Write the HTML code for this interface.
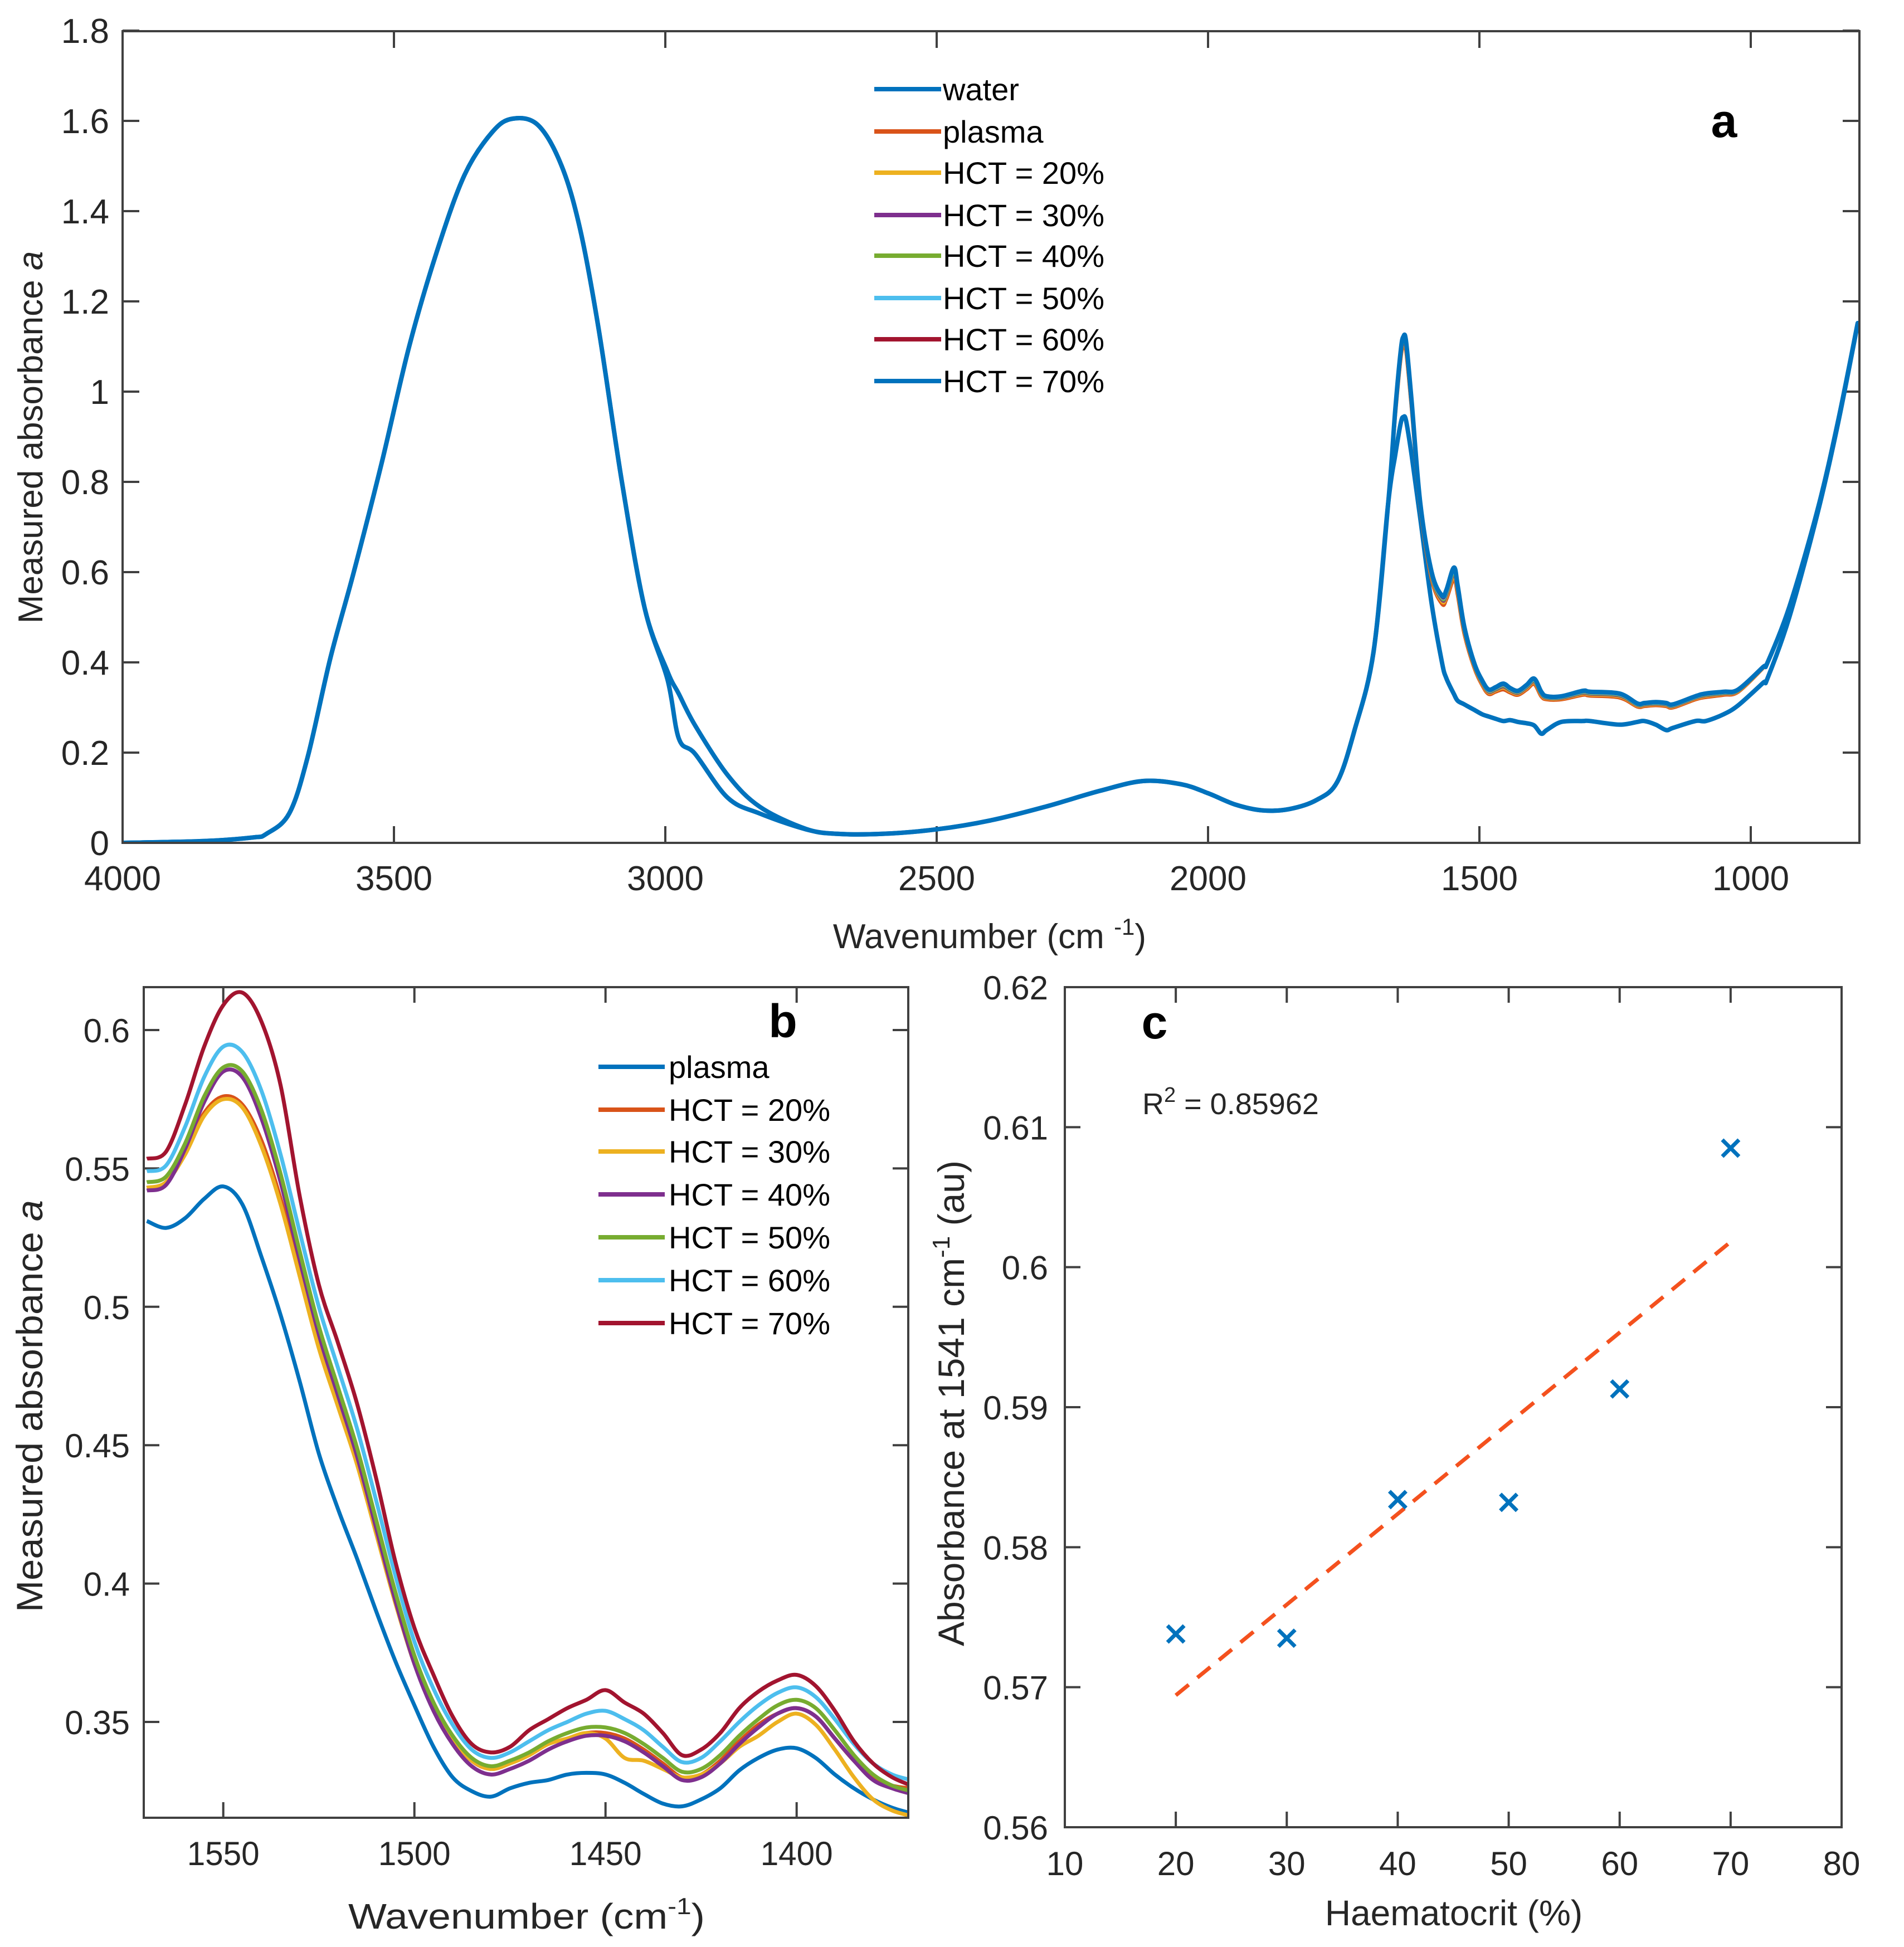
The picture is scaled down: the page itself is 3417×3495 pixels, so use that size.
<!DOCTYPE html>
<html><head><meta charset="utf-8"><style>
html,body{margin:0;padding:0;background:#fff;}
svg{display:block;font-family:"Liberation Sans",Arial,sans-serif;}
</style></head><body>
<svg id="fig" width="3417" height="3495" viewBox="0 0 3417 3495" xmlns="http://www.w3.org/2000/svg">
<rect width="3417" height="3495" fill="#fff"/>
</svg>
<script>
// ---------- Panel a data ----------
const wnA=[4000,3850,3760,3735,3693,3659,3617,3574,3523,3472,
3421,3370,3319,3281,3234,3191,3157,3123,3080,3038,
2996,2975,2945,2885,2826,2741,2683,2600,2500,2400,
2300,2200,2120,2050,2000,1950,1900,1850,1800,1762,
1730,1695,1668,1655,1645,1640,1635,1625,1609,1588,
1569,1561,1547,1540,1528,1510,1495,1483,1470,1456,
1443,1429,1413,1399,1386,1376,1349,1309,1296,1242,
1209,1196,1175,1156,1143,1102,1083,1050,1023,977,
969,929,877,840,803];
const waterA=[0,0.004,0.012,0.02,0.065,0.19,0.41,0.6,0.84,1.1,
1.31,1.48,1.575,1.605,1.59,1.5,1.36,1.14,0.8,0.52,
0.362,0.231,0.197,0.1,0.065,0.03,0.02,0.02,0.03,0.05,
0.08,0.115,0.137,0.13,0.11,0.085,0.072,0.075,0.095,0.135,
0.25,0.424,0.754,0.86,0.93,0.944,0.935,0.86,0.72,0.53,
0.4,0.365,0.33,0.315,0.307,0.295,0.285,0.28,0.275,0.27,
0.272,0.268,0.265,0.26,0.242,0.25,0.268,0.27,0.27,0.262,
0.268,0.27,0.262,0.25,0.255,0.27,0.27,0.285,0.305,0.355,
0.365,0.5,0.73,0.925,1.15];
const plasmaA=[0,0.004,0.012,0.02,0.065,0.19,0.41,0.6,0.84,1.1,
1.31,1.48,1.575,1.605,1.59,1.5,1.36,1.14,0.8,0.52,
0.38,0.33,0.26,0.15,0.08,0.031,0.02,0.02,0.03,0.05,
0.08,0.115,0.137,0.13,0.11,0.085,0.072,0.075,0.095,0.135,
0.25,0.424,0.754,0.95,1.075,1.10,1.09,0.965,0.745,0.585,
0.53,0.54,0.585,0.55,0.465,0.39,0.35,0.33,0.335,0.34,
0.333,0.328,0.34,0.352,0.325,0.318,0.318,0.328,0.326,0.322,
0.302,0.303,0.305,0.303,0.3,0.318,0.323,0.328,0.335,0.388,
0.4,0.523,0.738,0.93,1.152];
const hct70A=[0,0.004,0.012,0.02,0.065,0.19,0.41,0.6,0.84,1.1,
1.31,1.48,1.575,1.605,1.59,1.5,1.36,1.14,0.8,0.52,
0.38,0.33,0.26,0.15,0.08,0.031,0.02,0.02,0.03,0.05,
0.08,0.115,0.137,0.13,0.11,0.085,0.072,0.075,0.095,0.135,
0.25,0.424,0.754,0.96,1.09,1.122,1.11,0.98,0.754,0.6,
0.548,0.56,0.61,0.57,0.48,0.4,0.36,0.34,0.345,0.353,
0.343,0.337,0.35,0.364,0.335,0.325,0.325,0.337,0.335,0.331,
0.309,0.31,0.312,0.31,0.307,0.325,0.331,0.335,0.34,0.39,
0.4,0.523,0.738,0.93,1.152];
const hctMixA=[0.3,0.5,0.65,0.8,0.9]; // HCT 20..60 position between plasma and HCT70
const legendA=["water","plasma","HCT = 20%","HCT = 30%","HCT = 40%","HCT = 50%","HCT = 60%","HCT = 70%"];
const colorsA=["#0072BD","#D95319","#EDB120","#7E2F8E","#77AC30","#4DBEEE","#A2142F","#0072BD"];
const xTicksA=[4000,3500,3000,2500,2000,1500,1000];
const yTicksA=[0,0.2,0.4,0.6,0.8,1,1.2,1.4,1.6,1.8];

// ---------- Panel b data ----------
const wnB=[1570,1565,1560,1555,1550,1545,1540,1535,1530,1525,1520,1515,1510,1505,1500,1495,1490,1485,1480,1475,1470,1465,1460,1455,1450,1445,1440,1435,1430,1425,1420,1415,1410,1405,1400,1395,1390,1385,1380,1375,1370];
const plasmaB=[0.531,0.5285,0.532,0.539,0.5435,0.537,0.518,0.497,0.473,0.447,0.427,0.409,0.39,0.372,0.356,0.341,0.33,0.325,0.323,0.326,0.328,0.329,0.331,0.3316,0.331,0.328,0.324,0.3205,0.3195,0.322,0.326,0.3325,0.337,0.340,0.3405,0.337,0.331,0.326,0.322,0.319,0.317];
const hct20B=[0.543,0.545,0.556,0.570,0.576,0.573,0.560,0.539,0.513,0.487,0.466,0.445,0.420,0.395,0.372,0.356,0.344,0.336,0.333,0.335,0.338,0.342,0.344,0.346,0.346,0.344,0.340,0.335,0.330,0.331,0.336,0.343,0.349,0.353,0.355,0.352,0.344,0.336,0.330,0.327,0.326];
const hct30B=[0.543,0.545,0.555,0.569,0.575,0.572,0.558,0.537,0.511,0.485,0.464,0.443,0.418,0.393,0.371,0.355,0.343,0.336,0.333,0.335,0.338,0.342,0.344,0.346,0.344,0.337,0.336,0.333,0.330,0.331,0.335,0.341,0.345,0.350,0.353,0.349,0.340,0.330,0.322,0.318,0.316];
const hct40B=[0.542,0.544,0.557,0.574,0.585,0.583,0.568,0.545,0.517,0.490,0.468,0.446,0.420,0.394,0.371,0.354,0.342,0.334,0.331,0.333,0.336,0.340,0.343,0.345,0.345,0.343,0.339,0.334,0.329,0.330,0.335,0.342,0.348,0.353,0.355,0.352,0.344,0.336,0.329,0.326,0.324];
const hct50B=[0.545,0.547,0.559,0.576,0.5865,0.585,0.571,0.548,0.520,0.493,0.471,0.449,0.423,0.397,0.374,0.357,0.345,0.337,0.334,0.336,0.339,0.343,0.346,0.348,0.348,0.346,0.342,0.337,0.332,0.333,0.338,0.345,0.351,0.356,0.358,0.355,0.347,0.338,0.331,0.327,0.325];
const hct60B=[0.549,0.551,0.565,0.583,0.594,0.592,0.578,0.555,0.527,0.500,0.478,0.456,0.430,0.403,0.379,0.362,0.349,0.340,0.337,0.339,0.343,0.347,0.350,0.353,0.354,0.351,0.347,0.341,0.3355,0.337,0.343,0.350,0.356,0.3605,0.3625,0.359,0.351,0.342,0.335,0.331,0.329];
const hct70B=[0.5535,0.556,0.573,0.594,0.609,0.6135,0.603,0.580,0.540,0.508,0.487,0.465,0.438,0.408,0.384,0.367,0.352,0.342,0.339,0.341,0.347,0.351,0.355,0.358,0.3615,0.357,0.353,0.346,0.338,0.340,0.346,0.355,0.361,0.365,0.367,0.363,0.354,0.343,0.335,0.330,0.327];
const legendB=["plasma","HCT = 20%","HCT = 30%","HCT = 40%","HCT = 50%","HCT = 60%","HCT = 70%"];
const colorsB=["#0072BD","#D95319","#EDB120","#7E2F8E","#77AC30","#4DBEEE","#A2142F"];
const xTicksB=[1550,1500,1450,1400];
const yTicksB=[0.35,0.4,0.45,0.5,0.55,0.6];

// ---------- Panel c data ----------
const hctC=[20,30,40,50,60,70];
const absC=[0.5738,0.5735,0.5834,0.5832,0.5913,0.6085];
const xTicksC=[10,20,30,40,50,60,70,80];
const yTicksC=[0.56,0.57,0.58,0.59,0.6,0.61,0.62];
const yTickLabelsC=["0.56","0.57","0.58","0.59","0.6","0.61","0.62"];

// ---------- helpers ----------
const NS="http://www.w3.org/2000/svg";
const svg=document.getElementById('fig');
function mk(tag,attrs,parent){const e=document.createElementNS(NS,tag);for(const k in attrs)e.setAttribute(k,attrs[k]);(parent||svg).appendChild(e);return e;}
function txt(str,x,y,size,anchor,parent,extra){const t=mk('text',Object.assign({x:x,y:y,'font-size':size,'text-anchor':anchor||'middle',fill:'#262626'},extra||{}),parent);t.textContent=str;return t;}
function smoothPath(pts){
  const n=pts.length;
  let d='M'+pts[0][0].toFixed(1)+','+pts[0][1].toFixed(1);
  for(let i=0;i<n-1;i++){
    const p0=pts[Math.max(0,i-1)],p1=pts[i],p2=pts[i+1],p3=pts[Math.min(n-1,i+2)];
    const c1=[p1[0]+(p2[0]-p0[0])/6,p1[1]+(p2[1]-p0[1])/6];
    const c2=[p2[0]-(p3[0]-p1[0])/6,p2[1]-(p3[1]-p1[1])/6];
    d+='C'+c1[0].toFixed(1)+','+c1[1].toFixed(1)+' '+c2[0].toFixed(1)+','+c2[1].toFixed(1)+' '+p2[0].toFixed(1)+','+p2[1].toFixed(1);
  }
  return d;
}
function axesBox(g,L,T,R,B){
  const r=mk('rect',{x:L,y:T,width:R-L,height:B-T,fill:'none',stroke:'#404040','stroke-width':4},g);
  
  
}

// ================= PANEL A =================
(function(){
  const L=220,T=56,R=3337,B=1513;
  const X=w=>L+(4000-w)*(2922/3000);
  const Y=v=>B-v*810;
  const g=mk('g',{});
  
  
  const tg=mk('g',{},g);
  
  
  xTicksA.forEach(v=>{
    mk('line',{x1:X(v),x2:X(v),y1:B,y2:B-30,stroke:'#404040','stroke-width':4},tg);
    mk('line',{x1:X(v),x2:X(v),y1:T,y2:T+30,stroke:'#404040','stroke-width':4},tg);
    const t=txt(String(v),X(v),B+85,62,'middle',tg);
    
    
  });
  yTicksA.forEach(v=>{
    mk('line',{x1:L,x2:L+30,y1:Y(v),y2:Y(v),stroke:'#404040','stroke-width':4},tg);
    mk('line',{x1:R,x2:R-30,y1:Y(v),y2:Y(v),stroke:'#404040','stroke-width':4},tg);
    const t=txt(String(v),196,Y(v)+22,62,'end',tg);
    
    
  });
  const clip=mk('clipPath',{id:'clipA'},g);
  mk('rect',{x:L,y:T,width:R-L,height:B-T},clip);
  const series=[waterA,plasmaA];
  hctMixA.forEach(m=>series.push(plasmaA.map((p,i)=>p+(hct70A[i]-p)*m)));
  series.push(hct70A);
  const sg=mk('g',{fill:'none','stroke-linejoin':'round','stroke-linecap':'round','clip-path':'url(#clipA)'},g);
  
  
  series.forEach((arr,k)=>{
    const n=Math.min(arr.length,wnA.length);
    const pts=[];for(let i=0;i<n;i++)pts.push([X(wnA[i]),Y(arr[i])]);
    const p=mk('path',{d:smoothPath(pts),stroke:colorsA[k],'stroke-width':k===0||k===7?8:7},sg);
    
    
  });
  axesBox(g,L,T,R,B);
  const lg=mk('g',{},g);
  
  
  const ly=[160,236,310,386,459,535,609,684];
  legendA.forEach((s,k)=>{
    mk('line',{x1:1569,x2:1689,y1:ly[k],y2:ly[k],stroke:colorsA[k],'stroke-width':8},lg);
    const t=txt(s,1692,ly[k]+20,56,'start',lg,{fill:'#000'});
    
    
  });
  const pl=txt('a',3094,246,84,'middle',g,{'font-weight':'bold',fill:'#000'});
  
  
  const xt=txt('',1776,1702,62,'middle',g);
  xt.innerHTML='Wavenumber (cm <tspan dy="-24" font-size="42">-1</tspan><tspan dy="24">)</tspan>';
  
  
  const yt=txt('',0,0,62,'middle',g,{transform:'translate(76,785) rotate(-90)'});
  yt.innerHTML='Measured absorbance  <tspan font-style="italic">a</tspan>';
  
  
})();

// ================= PANEL B =================
(function(){
  const L=258,T=1772,R=1630,B=3263;
  const X=w=>L+(1570.8-w)*6.86;
  const Y=v=>T+(0.6155-v)*4968;
  const g=mk('g',{});
  
  
  const tg=mk('g',{},g);
  
  
  xTicksB.forEach(v=>{
    mk('line',{x1:X(v),x2:X(v),y1:B,y2:B-28,stroke:'#404040','stroke-width':4},tg);
    mk('line',{x1:X(v),x2:X(v),y1:T,y2:T+28,stroke:'#404040','stroke-width':4},tg);
    const t=txt(String(v),X(v),B+85,60,'middle',tg,{textLength:130,lengthAdjust:'spacingAndGlyphs'});
    
    
  });
  yTicksB.forEach(v=>{
    mk('line',{x1:L,x2:L+28,y1:Y(v),y2:Y(v),stroke:'#404040','stroke-width':4},tg);
    mk('line',{x1:R,x2:R-28,y1:Y(v),y2:Y(v),stroke:'#404040','stroke-width':4},tg);
    const t=txt(String(v),233,Y(v)+22,60,'end',tg);
    
    
  });
  const clip=mk('clipPath',{id:'clipB'},g);
  mk('rect',{x:L,y:T,width:R-L,height:B-T},clip);
  const series=[plasmaB,hct20B,hct30B,hct40B,hct50B,hct60B,hct70B];
  const sg=mk('g',{fill:'none','stroke-linejoin':'round','clip-path':'url(#clipB)'},g);
  
  
  series.forEach((arr,k)=>{
    const n=Math.min(arr.length,wnB.length);
    const pts=[];for(let i=0;i<n;i++)pts.push([X(wnB[i]),Y(arr[i])]);
    const p=mk('path',{d:smoothPath(pts),stroke:colorsB[k],'stroke-width':7},sg);
    
    
  });
  axesBox(g,L,T,R,B);
  const lg=mk('g',{},g);
  
  
  const ly=[1915,1992,2067,2144,2221,2298,2375];
  legendB.forEach((s,k)=>{
    mk('line',{x1:1074,x2:1193,y1:ly[k],y2:ly[k],stroke:colorsB[k],'stroke-width':8},lg);
    const t=txt(s,1200,ly[k]+20,56,'start',lg,{fill:'#000'});
    
    
  });
  const pl=txt('b',1405,1862,84,'middle',g,{'font-weight':'bold',fill:'#000'});
  
  
  const xt=txt('',945,3462,64,'middle',g);
  xt.innerHTML='Wavenumber (cm<tspan dy="-26" font-size="42">-1</tspan><tspan dy="26">)</tspan>';
  xt.setAttribute('textLength','640');
  xt.setAttribute('lengthAdjust','spacingAndGlyphs');
  
  
  const yt=txt('',0,0,66,'middle',g,{transform:'translate(76,2524) rotate(-90)',textLength:'740',lengthAdjust:'spacingAndGlyphs'});
  yt.innerHTML='Measured absorbance <tspan font-style="italic">a</tspan>';
  
  
})();

// ================= PANEL C =================
(function(){
  const L=1911,T=1772,R=3305,B=3280;
  const X=v=>L+(v-10)*(R-L)/70;
  const Y=v=>B-(v-0.56)*(B-T)/0.06;
  const g=mk('g',{});
  
  
  const tg=mk('g',{},g);
  
  
  xTicksC.forEach(v=>{
    mk('line',{x1:X(v),x2:X(v),y1:B,y2:B-28,stroke:'#404040','stroke-width':4},tg);
    mk('line',{x1:X(v),x2:X(v),y1:T,y2:T+28,stroke:'#404040','stroke-width':4},tg);
    const t=txt(String(v),X(v),B+86,60,'middle',tg);
    
    
  });
  yTicksC.forEach((v,i)=>{
    mk('line',{x1:L,x2:L+28,y1:Y(v),y2:Y(v),stroke:'#404040','stroke-width':4},tg);
    mk('line',{x1:R,x2:R-28,y1:Y(v),y2:Y(v),stroke:'#404040','stroke-width':4},tg);
    const t=txt(yTickLabelsC[i],1881,Y(v)+22,60,'end',tg);
    
    
  });
  const n=hctC.length;
  const mx=hctC.reduce((a,b)=>a+b,0)/n, my=absC.reduce((a,b)=>a+b,0)/n;
  let sxy=0,sxx=0;
  for(let i=0;i<n;i++){sxy+=(hctC[i]-mx)*(absC[i]-my);sxx+=(hctC[i]-mx)**2;}
  const slope=sxy/sxx, icpt=my-slope*mx;
  const x0=hctC[0], x1=hctC[n-1];
  const fl=mk('line',{x1:X(x0),y1:Y(icpt+slope*x0),x2:X(x1),y2:Y(icpt+slope*x1),stroke:'#F4511E','stroke-width':7,'stroke-dasharray':'30 20'},g);
  
  
  hctC.forEach((h,i)=>{
    const cx=X(h),cy=Y(absC[i]),s=15;
    const m=mk('path',{d:`M${cx-s},${cy-s}L${cx+s},${cy+s}M${cx-s},${cy+s}L${cx+s},${cy-s}`,stroke:'#0072BD','stroke-width':7,fill:'none'},g);
    
    
  });
  axesBox(g,L,T,R,B);
  const pl=txt('c',2072,1864,84,'middle',g,{'font-weight':'bold',fill:'#000'});
  
  
  const rt=txt('',2050,2000,54,'start',g);
  rt.innerHTML='R<tspan dy="-22" font-size="38">2</tspan><tspan dy="22"> = 0.85962</tspan>';
  
  
  const xt=txt('Haematocrit (%)',2609,3456,64,'middle',g);
  
  
  const yt=txt('',0,0,66,'middle',g,{transform:'translate(1730,2519) rotate(-90)'});
  yt.innerHTML='Absorbance at 1541 cm<tspan dy="-26" font-size="44">-1</tspan><tspan dy="26"> (au)</tspan>';
  
  
})();
</script>
</body></html>
